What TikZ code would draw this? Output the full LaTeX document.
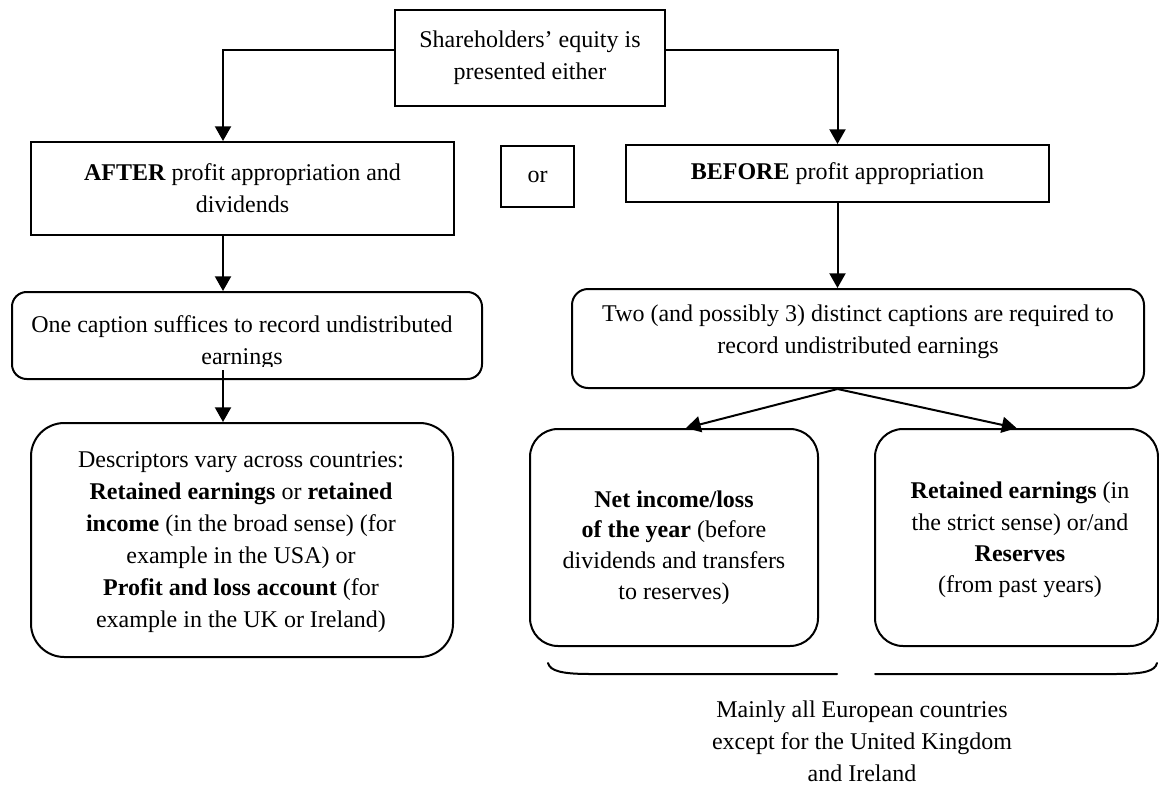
\documentclass[tikz,border=0pt]{standalone}
\usepackage{fontspec}
\setmainfont{Liberation Serif}
\usetikzlibrary{arrows.meta,calc}
\begin{document}
\begin{tikzpicture}[x=0.75pt,y=-0.75pt,
  every node/.style={font=\fontsize{18}{24}\selectfont, align=center, inner sep=0pt},
  sqbox/.style={draw, line width=1.5pt, rectangle},
  rbox/.style={draw, line width=1.5pt, rectangle, rounded corners=#1},
  link/.style={line width=1.5pt, -{Triangle[length=11pt,width=12pt]}},
  bracestroke/.style={line width=1.5pt, line cap=round}
]
\fill[white] (0,0) rectangle (1159,785);
\useasboundingbox (0,0) rectangle (1159,785);

% top question
\node[sqbox, minimum width=270*0.75pt, minimum height=96*0.75pt] (top) at (530,58)
  {Shareholders' equity is\\presented either};

% the two alternatives
\node[sqbox, minimum width=423*0.75pt, minimum height=93*0.75pt] (after) at (242.5,188.5)
  {\textbf{AFTER} profit appropriation and\\dividends};
\node[sqbox, minimum width=73*0.75pt, minimum height=61*0.75pt] (or) at (537.5,176.5) {or};
\node[sqbox, minimum width=423*0.75pt, minimum height=57*0.75pt] (before) at (837.5,173.5)
  {\textbf{BEFORE} profit appropriation};

% left branch
\node[rbox=11pt, minimum width=470*0.75pt, minimum height=87*0.75pt] (cap1) at (247,335.5) {};
\begin{scope}
  \clip (12,292) rectangle (482,366);
  \node (cap1text) at (242,342.5) {One caption suffices to record undistributed\\earnings};
\end{scope}
\node[rbox=25pt, minimum width=422*0.75pt, minimum height=234*0.75pt] (desc) at (242,540) {};
\node (desctext) at (241,542.5)
  {Descriptors vary across countries:\\
   \textbf{Retained earnings} or \textbf{retained}\\
   \textbf{income} (in the broad sense) (for\\
   example in the USA) or\\
   \textbf{Profit and loss account} (for\\
   example in the UK or Ireland)};

% right branch
\node[rbox=12pt, minimum width=572*0.75pt, minimum height=99*0.75pt] (cap2) at (858,338.5) {};
\node (cap2text) at (858,332)
  {Two (and possibly 3) distinct captions are required to\\record undistributed earnings};
\node[rbox=21pt, minimum width=288*0.75pt, minimum height=217*0.75pt] (net) at (674,537.5) {};
\node[font=\fontsize{18}{23}\selectfont] (nettext) at (674,547.5)
  {\textbf{Net income/loss}\\\textbf{of the year} (before\\dividends and transfers\\to reserves)};
\node[rbox=21pt, minimum width=283*0.75pt, minimum height=217*0.75pt] (ret) at (1016.5,537.5) {};
\node[font=\fontsize{18}{23.5}\selectfont] (rettext) at (1020,540)
  {\textbf{Retained earnings} (in\\the strict sense) or/and\\\textbf{Reserves}\\(from past years)};

% brace under the two right boxes
\coordinate (brL) at (548,663);
\coordinate (brM1) at (837,674);
\coordinate (brM2) at (875,674);
\coordinate (brR) at (1157,663);
\draw[bracestroke] (brL) .. controls (550,671) and (562,674) .. (590,674) -- (brM1);
\draw[bracestroke] (brM2) -- (1115,674) .. controls (1145,674) and (1155,671) .. (brR);
\node (region) at (862,741)
  {Mainly all European countries\\except for the United Kingdom\\and Ireland};

% connectors
\coordinate (lx) at (223,50);
\draw[link] (top.west |- lx) -| (lx |- after.north);
\draw[link] (top.east |- lx) -| (before.north);
\draw[link] (lx |- after.south) -- (lx |- cap1.north);
\draw[link] ($(lx |- cap1.south)+(0,-10)$) -- (lx |- desc.north);
\draw[link] (before.south) -- (before.south |- cap2.north);
\draw[link] (before.south |- cap2.south) -- ($(net.north)+(12,0)$);
\draw[link] (before.south |- cap2.south) -- (ret.north);
\end{tikzpicture}
\end{document}
